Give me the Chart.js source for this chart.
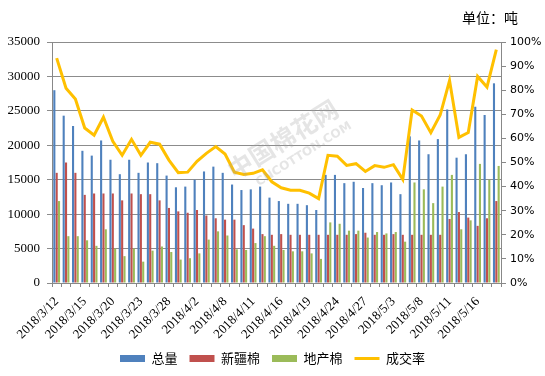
<!DOCTYPE html>
<html>
<head>
<meta charset="utf-8">
<script src="https://cdn.jsdelivr.net/npm/chart.js@4.4.1/dist/chart.umd.min.js"></script>
<style>
    html, body { margin: 0; padding: 0; background: #fff; }
    #wrap { width: 545px; height: 376px; }
</style>
</head>
<body>
<div id="wrap"><canvas id="cottonChart" width="545" height="376"></canvas></div>
<script>
// 日期（交易日）
const dates = [
    '2018/3/12', '2018/3/13', '2018/3/14', '2018/3/15', '2018/3/16', '2018/3/19',
    '2018/3/20', '2018/3/21', '2018/3/22', '2018/3/23', '2018/3/26', '2018/3/27',
    '2018/3/28', '2018/3/29', '2018/3/30', '2018/4/2', '2018/4/3', '2018/4/4',
    '2018/4/8', '2018/4/9', '2018/4/10', '2018/4/11', '2018/4/12', '2018/4/13',
    '2018/4/16', '2018/4/17', '2018/4/18', '2018/4/19', '2018/4/20', '2018/4/23',
    '2018/4/24', '2018/4/25', '2018/4/26', '2018/4/27', '2018/4/28', '2018/5/2',
    '2018/5/3', '2018/5/4', '2018/5/7', '2018/5/8', '2018/5/9', '2018/5/10',
    '2018/5/11', '2018/5/14', '2018/5/15', '2018/5/16', '2018/5/17', '2018/5/18'
];

// 总量（吨）
const totalQty = [
    28000, 24300, 22800, 19200, 18500, 20700, 17900, 15800, 17900, 16000, 17500, 17400,
    15600, 13900, 14000, 15000, 16200, 16900, 16000, 14300, 13500, 13600, 14000, 12400,
    11900, 11500, 11500, 11300, 10600, 15700, 15700, 14500, 14700, 13800, 14500, 14200,
    14600, 12900, 21300, 20700, 18700, 20900, 25200, 18200, 18700, 25600, 24400, 29000
];

// 新疆棉（吨）
const xinjiangQty = [
    16000, 17500, 16000, 12800, 13000, 13000, 13000, 12000, 13000, 12900, 12900, 12000,
    10900, 10400, 10200, 10600, 9800, 9400, 9200, 9200, 8400, 7900, 7100, 7000,
    7100, 7000, 7000, 7000, 7000, 7000, 7000, 7000, 7100, 7300, 7000, 7000,
    7100, 7000, 7000, 7000, 7000, 7000, 9300, 10300, 9500, 8300, 9400, 11900
];

// 地产棉（吨）
const localQty = [
    11900, 6800, 6800, 6200, 5400, 7800, 5000, 3900, 5000, 3100, 4700, 5300,
    4500, 3400, 3600, 4300, 6300, 7500, 6900, 4900, 4800, 5800, 6800, 5400,
    4800, 4600, 4600, 4300, 3500, 8800, 8600, 7600, 7600, 6600, 7400, 7200,
    7400, 6000, 14600, 13600, 11600, 14000, 15700, 7800, 9100, 17300, 15000, 17000
];

// 成交率（%）
const dealRate = [
    93.3, 80.8, 76.3, 64.3, 61.3, 68.8, 58.8, 53.0, 59.6, 53.0, 58.4, 57.6,
    51.0, 45.8, 46.0, 50.5, 53.8, 56.6, 53.5, 46.0, 45.0, 45.5, 47.0, 42.0,
    39.5, 38.5, 38.5, 37.3, 35.0, 53.0, 52.6, 48.8, 49.5, 46.3, 48.7, 48.0,
    49.1, 43.0, 71.8, 69.3, 62.4, 69.7, 84.0, 60.4, 62.4, 85.7, 81.3, 96.8
];

// 单位 + 水印
const extraText = {
    id: 'extraText',
    afterDatasetsDraw(chart) {
        const ctx = chart.ctx;
        ctx.save();
        ctx.translate(287, 146);
        ctx.rotate(-32 * Math.PI / 180);
        ctx.fillStyle = 'rgba(160,160,160,0.28)';
        ctx.textAlign = 'center';
        ctx.textBaseline = 'middle';
        ctx.font = 'bold 25px "Noto Sans CJK SC"';
        ctx.fillText('中国棉花网', 0, -8);
        ctx.font = 'bold 12px "DejaVu Sans"';
        ctx.fillText('CNCOTTON.COM', 10, 16);
        ctx.restore();
    },
    afterDraw(chart) {
        const ctx = chart.ctx;
        ctx.save();
        ctx.font = '14px "Noto Sans CJK SC"';
        ctx.fillStyle = '#000';
        ctx.textAlign = 'right';
        ctx.textBaseline = 'middle';
        ctx.fillText('单位：吨', 518, 18);
        ctx.restore();
    }
};

const ctx = document.getElementById('cottonChart');
new Chart(ctx, {
    type: 'bar',
    data: {
        labels: dates,
        datasets: [
            {
                label: '总量',
                data: totalQty,
                backgroundColor: '#4F81BD',
                yAxisID: 'y',
                order: 1,
                pointStyle: 'rect',
                categoryPercentage: 0.75,
                barPercentage: 0.9
            },
            {
                label: '新疆棉',
                data: xinjiangQty,
                backgroundColor: '#C0504D',
                yAxisID: 'y',
                order: 1,
                pointStyle: 'rect',
                categoryPercentage: 0.75,
                barPercentage: 0.9
            },
            {
                label: '地产棉',
                data: localQty,
                backgroundColor: '#9BBB59',
                yAxisID: 'y',
                order: 1,
                pointStyle: 'rect',
                categoryPercentage: 0.75,
                barPercentage: 0.9
            },
            {
                type: 'line',
                label: '成交率',
                data: dealRate,
                borderColor: '#FFC000',
                backgroundColor: '#FFC000',
                borderWidth: 3,
                pointRadius: 0,
                pointStyle: 'line',
                tension: 0,
                yAxisID: 'y1',
                order: 0
            }
        ]
    },
    options: {
        responsive: false,
        animation: false,
        devicePixelRatio: 1,
        layout: { padding: { top: 42, left: 0, right: 0, bottom: 1 } },
        plugins: {
            legend: {
                position: 'bottom',
                labels: {
                    usePointStyle: true,
                    pointStyleWidth: 25,
                    boxHeight: 7,
                    padding: 12,
                    color: '#000',
                    font: { family: '"Noto Sans CJK SC"', size: 13 },
                    sort: (a, b) => a.datasetIndex - b.datasetIndex
                }
            },
            tooltip: { enabled: false }
        },
        scales: {
            x: {
                grid: {
                    display: true,
                    drawOnChartArea: false,
                    drawTicks: true,
                    tickLength: 4,
                    color: '#888'
                },
                border: { display: true, color: '#888' },
                ticks: {
                    autoSkip: false,
                    minRotation: 45,
                    maxRotation: 45,
                    padding: 7,
                    color: '#000',
                    font: { family: '"Liberation Serif"', size: 13 },
                    callback: function(value, index) {
                        return index % 3 === 0 ? this.getLabelForValue(value) : '';
                    }
                },
                afterFit: function(scale) { scale.height = 57; }
            },
            y: {
                position: 'left',
                min: 0,
                max: 35000,
                grid: { color: '#8c8c8c', tickLength: 5 },
                border: { display: true, color: '#888' },
                ticks: {
                    stepSize: 5000,
                    padding: 7,
                    color: '#000',
                    font: { family: '"Liberation Serif"', size: 13 },
                    callback: v => String(v)
                },
                afterFit: function(scale) { scale.width = 52; }
            },
            y1: {
                position: 'right',
                min: 0,
                max: 100,
                grid: { drawOnChartArea: false, tickLength: 5, color: '#888' },
                border: { display: true, color: '#888' },
                ticks: {
                    stepSize: 10,
                    padding: 4,
                    color: '#000',
                    font: { family: '"DejaVu Sans"', size: 11 },
                    callback: v => v + '%'
                },
                afterFit: function(scale) { scale.width = 44; }
            }
        }
    },
    plugins: [extraText]
});
</script>
</body>
</html>
